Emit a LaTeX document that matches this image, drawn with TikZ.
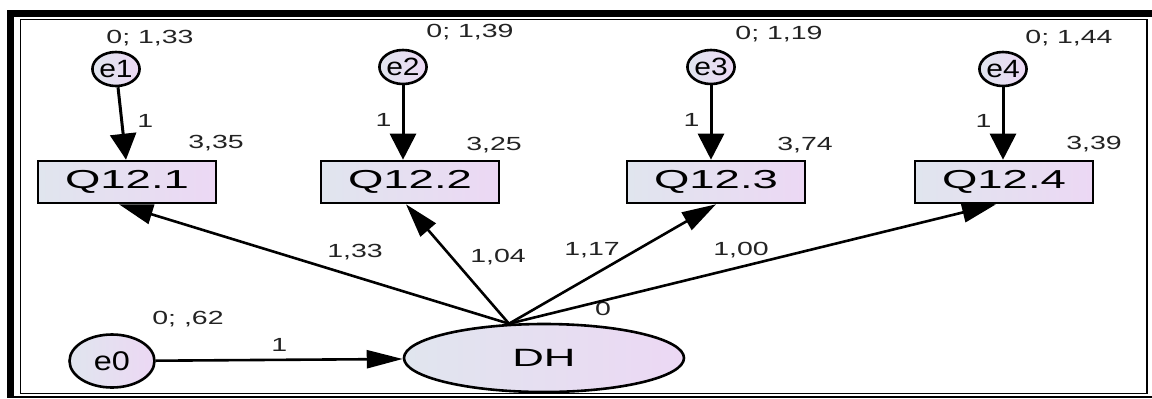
\documentclass[tikz,border=0pt]{standalone}
\usepackage{fontspec}
\setmainfont{Liberation Sans}[FakeStretch=1.75]
\newfontfamily\labfont{Liberation Sans}[FakeStretch=1.5]
\newfontfamily\efont{Liberation Sans}[FakeStretch=1.2]
\usetikzlibrary{arrows.meta,shapes.geometric,calc}
\definecolor{amosleft}{RGB}{224,229,238}
\definecolor{amosright}{RGB}{236,216,244}
\definecolor{labgrey}{RGB}{35,35,35}

\begin{document}
\begin{tikzpicture}[x=0.5pt, y=-0.5pt,
    obs/.style={draw, line width=1.3pt, rectangle, minimum width=89pt, minimum height=21pt,
        inner sep=0pt, left color=amosleft, right color=amosright, font=\fontsize{13}{15}\selectfont},
    err/.style={draw, line width=1.3pt, ellipse, minimum width=23.5pt, minimum height=17pt,
        inner sep=0pt, left color=amosleft, right color=amosright, font=\efont\fontsize{12.5}{14}\selectfont},
    lat/.style={draw, line width=1.3pt, ellipse, minimum width=140pt, minimum height=34pt,
        inner sep=0pt, left color=amosleft, right color=amosright, font=\fontsize{12.5}{14}\selectfont},
    est/.style={text=labgrey, font=\labfont\fontsize{9.5}{11}\selectfont, inner sep=1pt},
    errarr/.style={-{Triangle[length=13pt,width=13pt]}, line width=1.5pt},
    loadarr/.style={-{Triangle[length=17pt,width=10pt]}, line width=1.3pt},
    ]

    \useasboundingbox (0,0) rectangle (1152,398);

    % Cadre
    \fill (7,10) rectangle (14,398);
    \fill (7,10) rectangle (1152,17);
    \draw[line width=0.8pt] (20.5,19.5) rectangle (1147,393.5);
    \draw[line width=0.8pt] (14,397) -- (1152,397);

    % Variables observees
    \node[obs] (Q121) at (127,182) {Q12.1};
    \node[obs] (Q122) at (410,182) {Q12.2};
    \node[obs] (Q123) at (716,182) {Q12.3};
    \node[obs] (Q124) at (1004,182) {Q12.4};

    % Erreurs
    \node[err] (e1) at (116,69) {e1};
    \node[err] (e2) at (403,67) {e2};
    \node[err] (e3) at (711,67) {e3};
    \node[err] (e4) at (1003,69) {e4};
    \node[err, minimum width=42.5pt, minimum height=26.5pt, font=\efont\fontsize{13.5}{15}\selectfont] (e0) at (112,361) {e0};

    % Variable latente
    \node[lat] (DH) at (544,358) {DH};

    % Estimations
    \node[est] (v1) at (150,38) {0; 1,33};
    \node[est] (v2) at (470,32) {0; 1,39};
    \node[est] (v3) at (779,34) {0; 1,19};
    \node[est] (v4) at (1069,38) {0; 1,44};
    \node[est] (v0) at (188,319) {0; ,62};
    \node[est] (m1) at (216,143) {3,35};
    \node[est] (m2) at (494,145) {3,25};
    \node[est] (m3) at (805,145) {3,74};
    \node[est] (m4) at (1094,144) {3,39};
    \node[est] (mDH) at (603,309) {0};

    % Fleches des erreurs
    \draw[errarr] (e1) -- ($(Q121.north)+(-1,0)$) node[est, pos=0.47, right=6pt] (w1) {1};
    \draw[errarr] (e2) -- (e2 |- Q122.north) node[est, pos=0.47, left=4pt] (w2) {1};
    \draw[errarr] (e3) -- (e3 |- Q123.north) node[est, pos=0.47, left=4pt] (w3) {1};
    \draw[errarr] (e4) -- (e4 |- Q124.north) node[est, pos=0.47, left=4pt] (w4) {1};
    \draw[-{Triangle[length=18pt,width=9pt]}, line width=1.3pt] (e0) -- (DH)
        node[est, midway, above=2.5pt] (w0) {1};

    % Saturations
    \coordinate (hub) at ($(DH.north)+(-35,1)$);
    \draw[loadarr] (hub) -- ($(Q121.south)+(-8,0)$);
    \draw[loadarr] (hub) -- ($(Q122.south)+(-4,0)$);
    \draw[loadarr] (hub) -- (Q123.south);
    \draw[loadarr] (hub) -- ($(Q124.south)+(-8,0)$);

    \node[est] (l1) at (355,252) {1,33};
    \node[est] (l2) at (498,257) {1,04};
    \node[est] (l3) at (592,250) {1,17};
    \node[est] (l4) at (741,250) {1,00};

\end{tikzpicture}
\end{document}
